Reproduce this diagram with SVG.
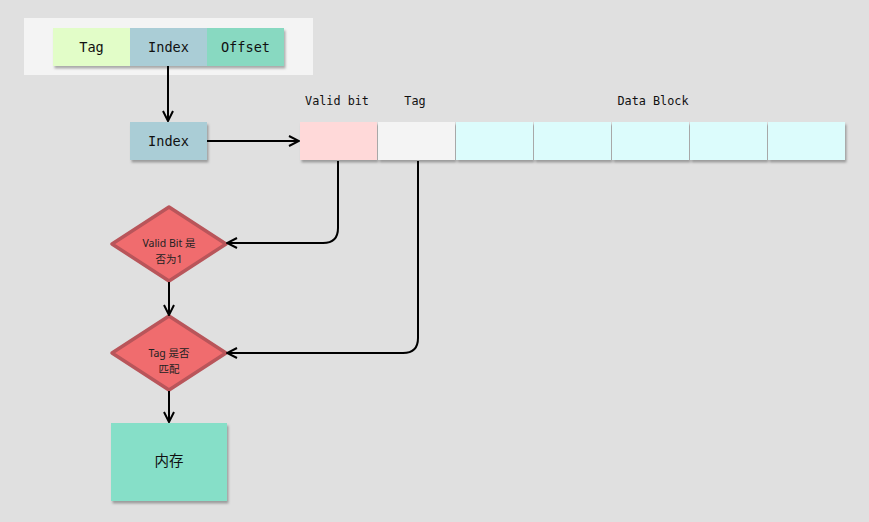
<svg xmlns="http://www.w3.org/2000/svg" width="869" height="522" viewBox="0 0 869 522">
<defs>
<filter id="sh" x="-10%" y="-10%" width="130%" height="140%">
<feDropShadow dx="1.5" dy="2.5" stdDeviation="1.2" flood-color="#000" flood-opacity="0.3"/>
</filter>
<marker id="arr" viewBox="0 0 12 12" refX="11" refY="6" markerWidth="12" markerHeight="12" markerUnits="userSpaceOnUse" orient="auto">
<path d="M1,1 L11,6 L1,11" fill="none" stroke="#000" stroke-width="2"/>
</marker>
<style>
.mono{font-family:"DejaVu Sans Mono","Liberation Mono",monospace;fill:#111}
.sans{font-family:"Noto Sans","Noto Sans CJK SC",sans-serif;fill:#222}
.cn{font-family:"Noto Sans CJK SC","Noto Sans",sans-serif;fill:#111}
.c{stroke:#000;stroke-width:2;fill:none;marker-end:url(#arr)}
.dia{fill:#f06c6e;stroke:#b9555a;stroke-width:3.5;stroke-linejoin:round}
</style>
</defs>
<rect width="869" height="522" fill="#e0e0e0"/>
<g id="address">
<rect x="24" y="18" width="289" height="57" fill="#f4f4f4"/>
<g filter="url(#sh)">
<rect x="53" y="28" width="77" height="38" fill="#e2fdc8"/>
<rect x="130" y="28" width="77" height="38" fill="#aacdd6"/>
<rect x="207" y="28" width="77" height="38" fill="#88d9c1"/>
</g>
<text class="mono" x="91.5" y="52" font-size="13.6" text-anchor="middle">Tag</text>
<text class="mono" x="168.5" y="52" font-size="13.6" text-anchor="middle">Index</text>
<text class="mono" x="245.5" y="52" font-size="13.6" text-anchor="middle">Offset</text>
</g>
<g id="index">
<rect x="130" y="122" width="77" height="38" fill="#aacdd6" filter="url(#sh)"/>
<text class="mono" x="168.5" y="146" font-size="13.6" text-anchor="middle">Index</text>
</g>
<g id="cacheline">
<text class="mono" x="337" y="105" font-size="11.8" text-anchor="middle">Valid bit</text>
<text class="mono" x="415" y="105" font-size="11.8" text-anchor="middle">Tag</text>
<text class="mono" x="653" y="105" font-size="11.8" text-anchor="middle">Data Block</text>
<g filter="url(#sh)">
<rect x="300" y="122" width="77" height="38" fill="#ffd9d9"/>
<rect x="378" y="122" width="77" height="38" fill="#f4f4f4"/>
<rect x="456" y="122" width="77" height="38" fill="#dcfcfc"/>
<rect x="534" y="122" width="77" height="38" fill="#dcfcfc"/>
<rect x="612" y="122" width="77" height="38" fill="#dcfcfc"/>
<rect x="690" y="122" width="77" height="38" fill="#dcfcfc"/>
<rect x="768" y="122" width="77" height="38" fill="#dcfcfc"/>
</g>
</g>
<g id="valid">
<path class="dia" d="M169,207 L226,244 L169,281 L112,244 Z"/>
<text class="sans" x="169" y="247" font-size="10.5" text-anchor="middle">Valid Bit 是</text>
<text class="sans" x="169" y="263" font-size="10.5" text-anchor="middle">否为1</text>
</g>
<g id="tagmatch">
<path class="dia" d="M169,316 L226,353 L169,390 L112,353 Z"/>
<text class="sans" x="169" y="357" font-size="10.5" text-anchor="middle">Tag 是否</text>
<text class="sans" x="169" y="373" font-size="10.5" text-anchor="middle">匹配</text>
</g>
<g id="memory">
<rect x="111" y="423" width="116" height="78" fill="#86dfc8" filter="url(#sh)"/>
<text class="cn" x="169" y="466" font-size="14.5" text-anchor="middle">内存</text>
</g>
<g id="connectors">
<path class="c" d="M168,66 V121"/>
<path class="c" d="M207,141 H299"/>
<path class="c" d="M338,161 V228 Q338,243 323,243 H227"/>
<path class="c" d="M418,161 V338 Q418,353 403,353 H227"/>
<path class="c" d="M169,282 V315"/>
<path class="c" d="M169,391 V422"/>
</g>
</svg>
